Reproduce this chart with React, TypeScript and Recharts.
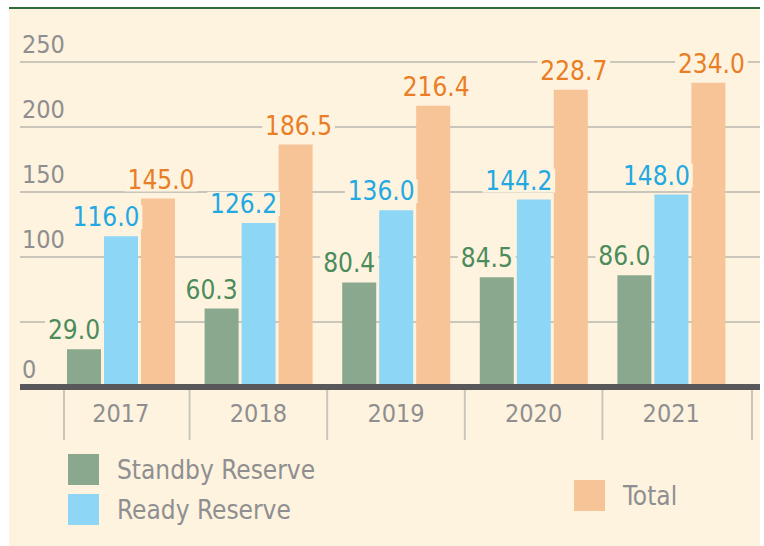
import { BarChart, Bar, XAxis, YAxis, CartesianGrid, LabelList } from 'recharts';

const years = ['2017', '2018', '2019', '2020', '2021'];
const standby = [29.0, 60.3, 80.4, 84.5, 86.0];
const ready = [116.0, 126.2, 136.0, 144.2, 148.0];
const total = [145.0, 186.5, 216.4, 228.7, 234.0];
const yTicks = [0, 50, 100, 150, 200, 250];
// the 50 line carries no label in the original
const yTickLabels = ['0', '', '100', '150', '200', '250'];

const data = years.map((year, i) => ({
  year,
  standby: standby[i],
  ready: ready[i],
  total: total[i],
}));

const FONT = "'DejaVu Sans Condensed', 'DejaVu Sans', sans-serif";
const CREAM = '#fef3de';
const GRAY_TEXT = '#8f8f91';
const GRID = '#cbc6bc';

const W = 764;
const H = 546;
const MARGIN = { top: 62, right: 4, left: 0, bottom: 99 };
const Y_W = 20;
const PAD = { left: 32, right: 20 };
const BAND = (W - MARGIN.left - Y_W - MARGIN.right - PAD.left - PAD.right) / years.length;

const series = [
  { key: 'standby', name: 'Standby Reserve', fill: '#8aa88e', label: '#4b8b5c', dx: -10 },
  { key: 'ready', name: 'Ready Reserve', fill: '#8dd6f6', label: '#22a8e2', dx: -15 },
  { key: 'total', name: 'Total', fill: '#f7c498', label: '#e97e27', dx: 3 },
];

const makeLabel = (color: string, dx: number) => (props: any) => {
  const { x, y, width, value } = props;
  const text = Number(value).toFixed(1);
  const cx = Number(x) + Number(width) / 2 + dx;
  const base = Number(y) - 10;
  const tw = (text.length - 1) * 14.8 + 7.5;
  return (
    <g>
      <rect x={cx - tw / 2 - 3} y={base - 21} width={tw + 6} height={24} fill={CREAM} />
      <text x={cx} y={base} textAnchor="middle" fill={color} fontSize={26} fontFamily={FONT}>
        {text}
      </text>
    </g>
  );
};

const YTick = (props: any) => {
  const { y, payload } = props;
  const label = yTickLabels[yTicks.indexOf(payload.value)] ?? '';
  return (
    <text x={22} y={y - 9} fill={GRAY_TEXT} fontSize={25} fontFamily={FONT} textAnchor="start">
      {label}
    </text>
  );
};

const XTick = (props: any) => {
  const { x, y, payload, index } = props;
  const half = BAND / 2;
  const left = index === 0 ? x - half + 12 : x - half;
  return (
    <g>
      <line x1={left} x2={left} y1={y + 3} y2={y + 53} stroke={GRID} strokeWidth={2} />
      {index === years.length - 1 && (
        <line x1={x + half + 12} x2={x + half + 12} y1={y + 3} y2={y + 53} stroke={GRID} strokeWidth={2} />
      )}
      <text x={x} y={y + 35} textAnchor="middle" fill={GRAY_TEXT} fontSize={25} fontFamily={FONT}>
        {payload.value}
      </text>
    </g>
  );
};

const legendPos = [
  { left: 68, top: 454 },
  { left: 68, top: 494 },
  { left: 574, top: 480 },
];

const App = () => {
  return (
    <div style={{ position: 'absolute', left: 0, top: 0, width: W, height: H, background: '#fff' }}>
      <div
        style={{
          position: 'absolute',
          left: 9,
          top: 7,
          width: 751,
          height: 537,
          background: CREAM,
          borderTop: '2px solid #2e6b38',
        }}
      />
      <div style={{ position: 'absolute', left: 0, top: 0 }}>
        <BarChart width={W} height={H} data={data} margin={MARGIN} barSize={34} barGap={3}>
          <CartesianGrid vertical={false} stroke={GRID} strokeWidth={2} />
          <YAxis
            domain={[0, 250]}
            ticks={yTicks}
            width={Y_W}
            axisLine={false}
            tickLine={false}
            tick={<YTick />}
          />
          {series.map((s) => (
            <Bar key={s.key} dataKey={s.key} name={s.name} fill={s.fill} isAnimationActive={false}>
              <LabelList dataKey={s.key} content={makeLabel(s.label, s.dx)} />
            </Bar>
          ))}
          <XAxis
            dataKey="year"
            height={60}
            padding={PAD}
            tickSize={0}
            tickMargin={0}
            tickLine={false}
            axisLine={{ stroke: '#58585a', strokeWidth: 6 }}
            tick={<XTick />}
          />
        </BarChart>
      </div>
      {series.map((s, i) => (
        <div
          key={s.key}
          style={{
            position: 'absolute',
            left: legendPos[i].left,
            top: legendPos[i].top,
            display: 'flex',
            alignItems: 'center',
            fontFamily: FONT,
            fontSize: 26,
            color: GRAY_TEXT,
            whiteSpace: 'nowrap',
          }}
        >
          <div style={{ width: 31, height: 31, background: s.fill, marginRight: 18 }} />
          <span>{s.name}</span>
        </div>
      ))}
    </div>
  );
};

export default App;
